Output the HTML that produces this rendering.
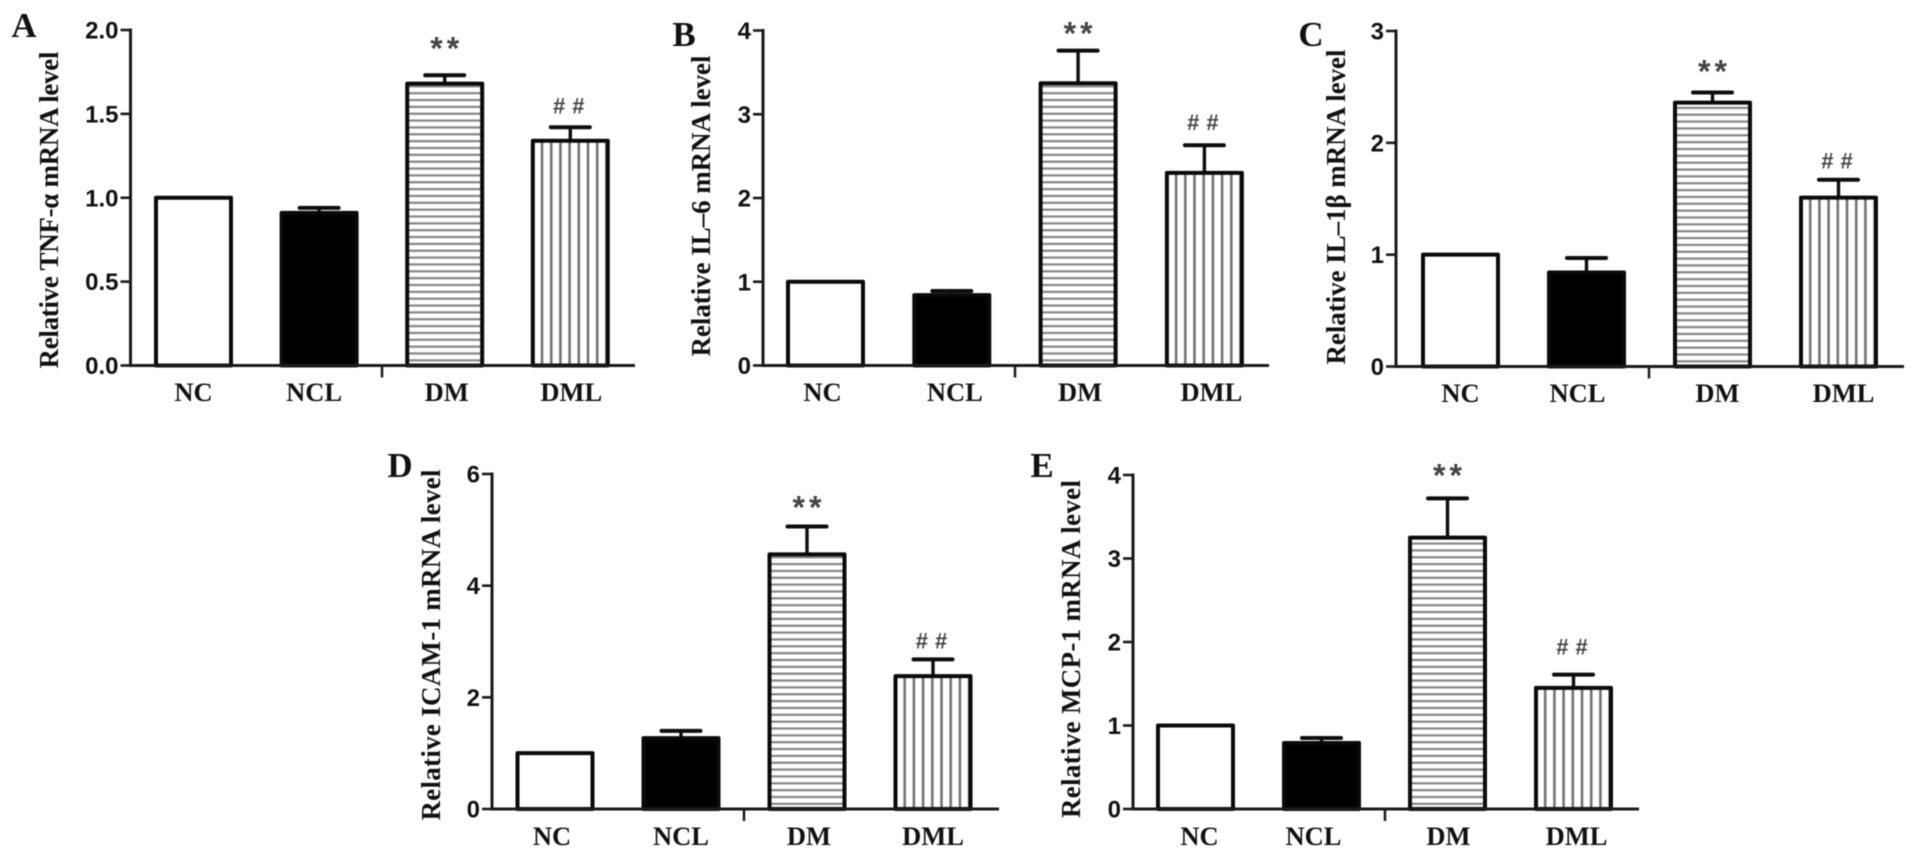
<!DOCTYPE html>
<html lang="en">
<head>
<meta charset="utf-8">
<title>Relative mRNA levels</title>
<style>
html,body{margin:0;padding:0;background:#fff;}
body{width:1913px;height:855px;overflow:hidden;}
svg{display:block;filter:blur(0.65px);}
.tick{font:bold 24px "Liberation Sans",sans-serif;fill:#111;text-anchor:end;}
.title{font:bold 27px "Liberation Serif","DejaVu Serif",serif;fill:#111;text-anchor:middle;}
.cat{font:bold 26.5px "Liberation Serif",serif;fill:#111;text-anchor:middle;}
.letter{font:bold 35px "Liberation Serif",serif;fill:#111;text-anchor:middle;}
.star{font:bold 32px "Liberation Sans",sans-serif;fill:#444;text-anchor:middle;letter-spacing:4px;}
.hash{font:bold 22px "Liberation Sans",sans-serif;fill:#444;text-anchor:middle;letter-spacing:7px;}
</style>
</head>
<body>
<svg id="fig" width="1913" height="855" viewBox="0 0 1913 855" xmlns="http://www.w3.org/2000/svg"></svg>
<script>
// ---- chart data ----
const categories = ['NC', 'NCL', 'DM', 'DML'];
const marks = ['', '', '**', '##'];

const valuesA = [1, 0.91, 1.68, 1.34];
const errorsA = [0, 0.03, 0.05, 0.08];
const ticksA = ['0.0', '0.5', '1.0', '1.5', '2.0'];

const valuesB = [1, 0.84, 3.37, 2.30];
const errorsB = [0, 0.05, 0.39, 0.33];
const ticksB = ['0', '1', '2', '3', '4'];

const valuesC = [1, 0.84, 2.36, 1.51];
const errorsC = [0, 0.13, 0.09, 0.16];
const ticksC = ['0', '1', '2', '3'];

const valuesD = [1, 1.27, 4.56, 2.38];
const errorsD = [0, 0.13, 0.50, 0.30];
const ticksD = ['0', '2', '4', '6'];

const valuesE = [1, 0.79, 3.25, 1.45];
const errorsE = [0, 0.06, 0.47, 0.16];
const ticksE = ['0', '1', '2', '3', '4'];

// ---- panel layout (geometry only) ----
const panels = [
  {id:'a', letter:'A', title:'Relative TNF-α mRNA level', values:valuesA, errors:errorsA, ticks:ticksA,
   axisX:130.5, top:30, bottom:365.5, end:635, x0:156, step:125.6, barW:75, brk:382,
   catOff:[0,-5,2,1], letterX:24, letterY:37, titleX:58, titleMid:210, titleLen:317, starOff:-36, hashOff:-21, catY:401},
  {id:'b', letter:'B', title:'Relative IL–6 mRNA level', values:valuesB, errors:errorsB, ticks:ticksB,
   axisX:763, top:30.5, bottom:365.5, end:1269, x0:788, step:126.3, barW:75, brk:1015,
   catOff:[-3,3,2,7], letterX:684, letterY:46, titleX:710, titleMid:206, titleLen:301, starOff:-26, hashOff:-22, catY:401},
  {id:'c', letter:'C', title:'Relative IL–1β mRNA level', values:valuesC, errors:errorsC, ticks:ticksC,
   axisX:1396, top:31, bottom:366.5, end:1904, x0:1423, step:126, barW:75, brk:1649,
   catOff:[0,-9,5,5], letterX:1311, letterY:46, titleX:1345, titleMid:207, titleLen:315, starOff:-30, hashOff:-18, catY:402},
  {id:'d', letter:'D', title:'Relative ICAM-1 mRNA level', values:valuesD, errors:errorsD, ticks:ticksD,
   axisX:492, top:474, bottom:809, end:999, x0:517.5, step:126, barW:75, brk:744,
   catOff:[-3,0,2,0], letterX:400, letterY:477, titleX:440, titleMid:645, titleLen:351, starOff:-28, hashOff:-18, catY:845},
  {id:'e', letter:'E', title:'Relative MCP-1 mRNA level', values:valuesE, errors:errorsE, ticks:ticksE,
   axisX:1133, top:475, bottom:809, end:1639, x0:1158, step:126, barW:75, brk:1385,
   catOff:[4,-8,1,3], letterX:1042, letterY:477, titleX:1080, titleMid:649, titleLen:338, starOff:-32, hashOff:-27, catY:845}
];

// ---- rendering ----
const NS = 'http://www.w3.org/2000/svg';
const fig = document.getElementById('fig');
const defs = document.createElementNS(NS, 'defs');
fig.appendChild(defs);

function node(tag, attrs, parent) {
  const n = document.createElementNS(NS, tag);
  for (const k in attrs) n.setAttribute(k, attrs[k]);
  parent.appendChild(n);
  return n;
}
function hatchH(id, baseY) {
  const p = node('pattern', {id:id, patternUnits:'userSpaceOnUse', width:20, height:6.85, patternTransform:'translate(0 ' + baseY + ')'}, defs);
  node('rect', {x:0, y:0, width:20, height:6.85, fill:'#fff'}, p);
  node('rect', {x:0, y:0.6, width:20, height:2.2, fill:'#858585'}, p);
}
function hatchV(id, left) {
  const p = node('pattern', {id:id, patternUnits:'userSpaceOnUse', width:9.2, height:20, patternTransform:'translate(' + left + ' 0)'}, defs);
  node('rect', {x:0, y:0, width:9.2, height:20, fill:'#fff'}, p);
  node('rect', {x:-1.25, y:0, width:2.5, height:20, fill:'#6e6e6e'}, p);
  node('rect', {x:7.95, y:0, width:2.5, height:20, fill:'#6e6e6e'}, p);
}

panels.forEach(function (p) {
  const g = node('g', {}, fig);
  
  

  const yMax = parseFloat(p.ticks[p.ticks.length - 1]);
  const yScale = function (v) { return p.bottom - (v / yMax) * (p.bottom - p.top); };
  const xScale = function (i) { return p.x0 + i * p.step; };

  const letter = node('text', {x:p.letterX, y:p.letterY, class:'letter'}, g);
  letter.textContent = p.letter;
  
  

  const title = node('text', {x:0, y:0, class:'title', textLength:p.titleLen, lengthAdjust:'spacing',
    transform:'translate(' + p.titleX + ' ' + p.titleMid + ') rotate(-90)'}, g);
  title.textContent = p.title;
  
  

  hatchH('hh-' + p.id, p.bottom);
  hatchV('hv-' + p.id, xScale(3));

  categories.forEach(function (cat, i) {
    const v = p.values[i];
    const e = p.errors[i];
    const x = xScale(i);
    const y = yScale(v);
    const cx = x + p.barW / 2;

    if (e > 0) {
      const yc = yScale(v + e);
      const stem = node('line', {x1:cx, x2:cx, y1:y, y2:yc, stroke:'#0d0d0d', 'stroke-width':3.4}, g);
      
      
      const cap = node('line', {x1:cx - 19.5, x2:cx + 19.5, y1:yc, y2:yc, stroke:'#0d0d0d', 'stroke-width':4, 'stroke-linecap':'round'}, g);
      
      
    }

    const fills = ['#fff', '#000', 'url(#hh-' + p.id + ')', 'url(#hv-' + p.id + ')'];
    const bar = node('rect', {x:x, y:y, width:p.barW, height:p.bottom - y, fill:fills[i], stroke:'#0a0a0a', 'stroke-width':4, 'stroke-linejoin':'round'}, g);
    
    

    const label = node('text', {x:cx + p.catOff[i] + 0, y:p.catY, class:'cat'}, g);
    label.textContent = cat;
    
    

    if (marks[i]) {
      const isStar = marks[i] === '**';
      const off = isStar ? p.starOff + 9 : p.hashOff + 7;
      const mark = node('text', {x:cx + 2, y:yScale(v + e) + off + (isStar ? 11 : 0), class:isStar ? 'star' : 'hash'}, g);
      mark.textContent = marks[i];
      
      
    }
  });

  const yAxis = node('line', {x1:p.axisX, x2:p.axisX, y1:p.top - 1.5, y2:p.bottom + 1.5, stroke:'#1a1a1a', 'stroke-width':3}, g);
  
  

  const xAxis = node('line', {x1:p.axisX, x2:p.end, y1:p.bottom, y2:p.bottom, stroke:'#1a1a1a', 'stroke-width':3}, g);
  
  

  const brk = node('line', {x1:p.brk, x2:p.brk, y1:p.bottom, y2:p.bottom + 12, stroke:'#1a1a1a', 'stroke-width':2.5}, g);
  
  

  p.ticks.forEach(function (t) {
    const ty = yScale(parseFloat(t));
    const tick = node('line', {x1:p.axisX - 10, x2:p.axisX, y1:ty, y2:ty, stroke:'#1a1a1a', 'stroke-width':2.6}, g);
    
    
    const lab = node('text', {x:p.axisX - 12, y:ty + 8.5, class:'tick'}, g);
    lab.textContent = t;
    
    
  });
});
</script>
</body>
</html>
